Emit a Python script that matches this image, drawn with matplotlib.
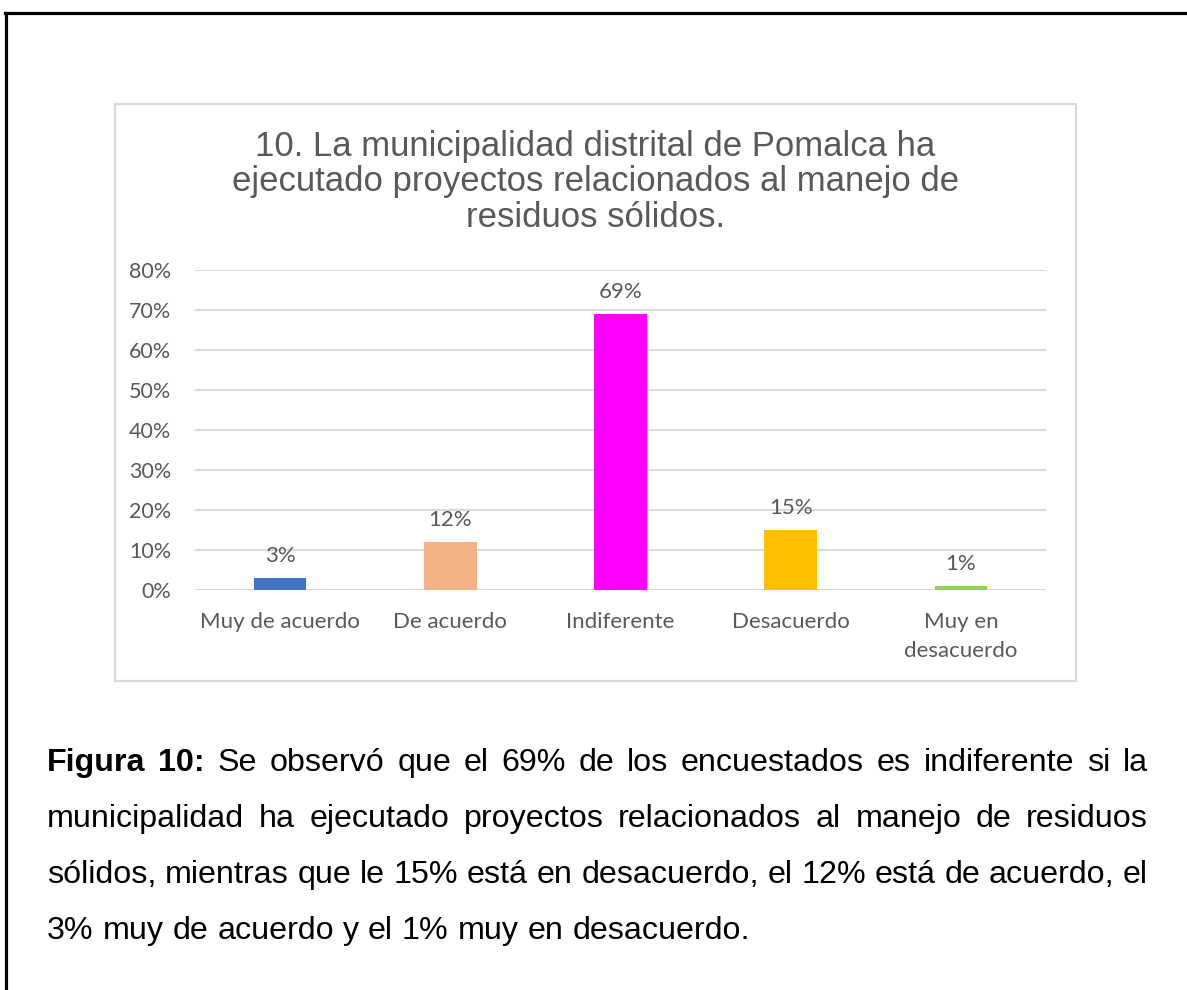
import matplotlib
matplotlib.use('Agg')
import matplotlib.pyplot as plt
from matplotlib.patches import Rectangle
from matplotlib.lines import Line2D

# data
categories = ['Muy de acuerdo', 'De acuerdo', 'Indiferente', 'Desacuerdo', 'Muy en\ndesacuerdo']
values = [3, 12, 69, 15, 1]
bar_colors = ['#4472C4', '#F4B183', '#FF00FF', '#FFC000', '#92D050']
yticks = [0, 10, 20, 30, 40, 50, 60, 70, 80]
title = ('10. La municipalidad distrital de Pomalca ha\n'
         'ejecutado proyectos relacionados al manejo de\n'
         'residuos sólidos.')
caption_lines = [
    'Figura 10: Se observó que el 69% de los encuestados es indiferente si la',
    'municipalidad ha ejecutado proyectos relacionados al manejo de residuos',
    'sólidos, mientras que le 15% está en desacuerdo, el 12% está de acuerdo, el',
    '3% muy de acuerdo y el 1% muy en desacuerdo.',
]
bold_words = 2  # "Figura 10:" is bold

W, H = 1187, 990
fig = plt.figure(figsize=(W / 100, H / 100), dpi=100)
fig.patch.set_facecolor('white')

# page border lines (top and left)
fig.add_artist(Line2D([5 / W, 1], [1 - 12.5 / H, 1 - 12.5 / H], color='black', lw=2.3,
                      transform=fig.transFigure))
fig.add_artist(Line2D([6 / W, 6 / W], [0, 1 - 12.5 / H], color='black', lw=2.3,
                      transform=fig.transFigure))

# chart frame
fig.add_artist(Rectangle((115 / W, 1 - 681 / H), 961 / W, 577 / H, transform=fig.transFigure,
                         fill=False, edgecolor='#d9d9d9', lw=1.6))

grey = '#595959'
ax = fig.add_axes([195 / W, 1 - 590 / H, 851 / W, 320 / H])
x = range(len(categories))
ax.bar(x, values, width=0.31, color=bar_colors, zorder=3)
ax.set_xlim(-0.5, len(categories) - 0.5)
ax.set_ylim(0, 80)
ax.set_yticks(yticks)
ax.set_yticklabels([f'{t}%' for t in yticks], family='Lato', fontsize=15.5, color=grey)
ax.set_xticks(list(x))
ax.set_xticklabels(categories, family='Lato', fontsize=16, color=grey, linespacing=1.55)
ax.tick_params(axis='y', length=0, pad=17)
ax.tick_params(axis='x', length=0, pad=16)
ax.yaxis.grid(True, color='#d9d9d9', lw=1.5, zorder=0)
ax.set_axisbelow(True)
for s in ax.spines.values():
    s.set_visible(False)

for i, v in enumerate(values):
    ax.annotate(f'{v}%', (i, v), xytext=(0, 9), textcoords='offset points',
                ha='center', va='bottom', family='Lato', fontsize=16, color=grey)

fig.text(595.5 / W, 1 - 182 / H, title, ha='center', va='center', fontsize=25,
         family='Liberation Sans', color=grey, linespacing=1.08)

# caption, justified like the document text
renderer = fig.canvas.get_renderer()
left, right = 47, 1148
cap_size = 23.2
for n, line in enumerate(caption_lines):
    ypix = 763 + 56 * n
    words = line.split(' ')
    texts = []
    for k, w in enumerate(words):
        wt = 'bold' if (n == 0 and k < bold_words) else 'normal'
        t = fig.text(0, 1 - ypix / H, w, ha='left', va='center', fontsize=cap_size,
                     family='Liberation Sans', fontweight=wt, color='black')
        texts.append(t)
    widths = [t.get_window_extent(renderer).width for t in texts]
    space = fig.text(0, 0, 'a a', fontsize=cap_size, family='Liberation Sans')
    sw = space.get_window_extent(renderer).width
    space.remove()
    aw = fig.text(0, 0, 'aa', fontsize=cap_size, family='Liberation Sans')
    sw = sw - aw.get_window_extent(renderer).width
    aw.remove()
    if n < len(caption_lines) - 1:
        gap = (right - left - sum(widths)) / (len(words) - 1)
    else:
        gap = sw
    xp = left
    for t, wdt in zip(texts, widths):
        t.set_x(xp / W)
        xp += wdt + gap

fig.savefig('out.png', dpi=100)
